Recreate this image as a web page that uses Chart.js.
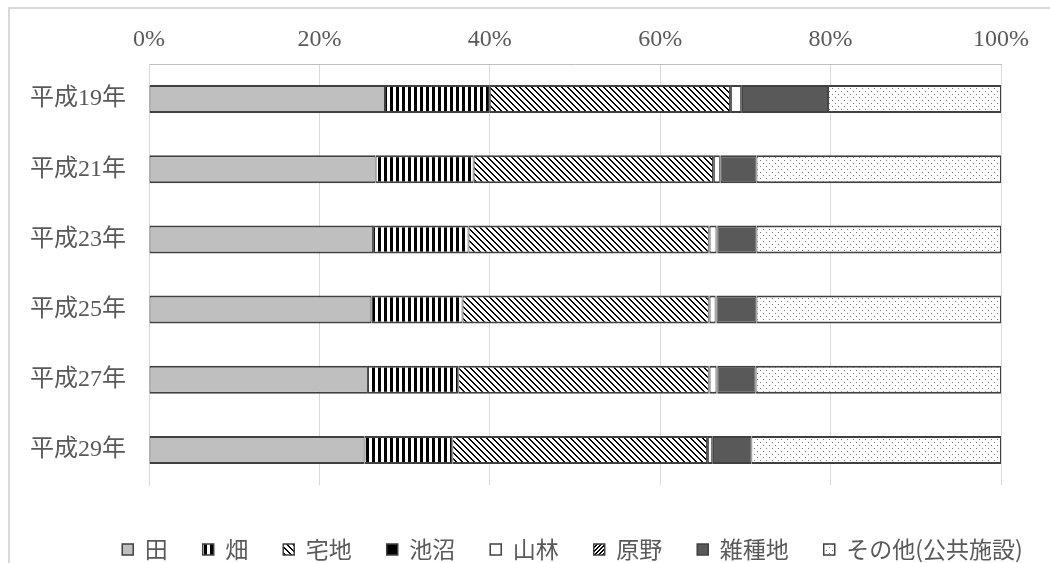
<!DOCTYPE html>
<html>
<head>
<meta charset="utf-8">
<script src="https://cdn.jsdelivr.net/npm/chart.js@4.4.1/dist/chart.umd.min.js"></script>
<style>
  html, body { margin: 0; padding: 0; background: #fff; }
  canvas { display: block; }
</style>
</head>
<body>
<canvas id="c" width="1050" height="563"></canvas>
<script>
// 地目別面積の構成比（%）
const years = ['平成19年', '平成21年', '平成23年', '平成25年', '平成27年', '平成29年'];
const pctTicks = [0, 20, 40, 60, 80, 100];

const ta        = [27.7, 26.6, 26.3, 26.1, 25.7, 25.3]; // 田
const hatake    = [12.3, 11.5, 11.2, 10.7, 10.6, 10.3]; // 畑
const takuchi   = [28.2, 28.1, 28.2, 28.9, 29.4, 29.9]; // 宅地
const chisho    = [0.1, 0.1, 0.1, 0.1, 0.1, 0.1];       // 池沼
const sanrin    = [1.2, 0.7, 0.8, 0.7, 0.8, 0.5];       // 山林
const genya     = [0.1, 0.1, 0.1, 0.1, 0.1, 0.1];       // 原野
const zasshuchi = [10.1, 4.2, 4.6, 4.7, 4.5, 4.5];      // 雑種地
const sonota    = [20.3, 28.7, 28.7, 28.7, 28.8, 29.3]; // その他(公共施設)

const canvas = document.getElementById('c');
const ctx = canvas.getContext('2d');

// small repeating tiles used as fills
function makePattern(w, h, paint) {
  const t = document.createElement('canvas');
  t.width = w; t.height = h;
  const g = t.getContext('2d');
  g.fillStyle = '#ffffff';
  g.fillRect(0, 0, w, h);
  paint(g, w, h);
  return ctx.createPattern(t, 'repeat');
}

const vertStripes = makePattern(6, 1, g => {
  g.fillStyle = '#000000';
  g.fillRect(0, 0, 3, 1);
});

const downDiag = makePattern(6, 6, (g, w, h) => {
  g.fillStyle = '#000000';
  for (let y = 0; y < h; y++) {
    for (let x = 0; x < w; x++) {
      if (((x - y) % 6 + 6) % 6 < 2) g.fillRect(x, y, 1, 1);
    }
  }
});

const upDiag = makePattern(4, 4, (g, w, h) => {
  g.fillStyle = '#000000';
  for (let y = 0; y < h; y++) {
    for (let x = 0; x < w; x++) {
      if ((x + y) % 4 < 2) g.fillRect(x, y, 1, 1);
    }
  }
});

const dots = makePattern(6, 6, g => {
  g.fillStyle = '#7a7a7a';
  g.fillRect(1, 1, 1, 1);
  g.fillRect(4, 4, 1, 1);
});

const series = [
  { label: '田', data: ta, fill: '#bfbfbf' },
  { label: '畑', data: hatake, fill: vertStripes },
  { label: '宅地', data: takuchi, fill: downDiag },
  { label: '池沼', data: chisho, fill: '#000000' },
  { label: '山林', data: sanrin, fill: '#ffffff' },
  { label: '原野', data: genya, fill: upDiag },
  { label: '雑種地', data: zasshuchi, fill: '#595959' },
  { label: 'その他(公共施設)', data: sonota, fill: dots }
];

const framePlugin = {
  id: 'frame',
  beforeDraw(chart) {
    const c = chart.ctx;
    c.save();
    c.fillStyle = '#ffffff';
    c.fillRect(0, 0, chart.width, chart.height);
    c.strokeStyle = '#d9d9d9';
    c.lineWidth = 2;
    c.beginPath();
    c.moveTo(9, chart.height);
    c.lineTo(9, 8);
    c.lineTo(chart.width, 8);
    c.stroke();
    c.restore();
  }
};

new Chart(ctx, {
  type: 'bar',
  data: {
    labels: years,
    datasets: series.map(s => ({
      label: s.label,
      data: s.data,
      backgroundColor: s.fill,
      borderColor: '#404040',
      borderWidth: { top: 2, bottom: 2, left: 1, right: 1 },
      borderSkipped: false,
      barPercentage: 0.4,
      categoryPercentage: 1
    }))
  },
  options: {
    indexAxis: 'y',
    responsive: false,
    animation: false,
    layout: { padding: { left: 16, right: -79, top: 0, bottom: -8 } },
    scales: {
      x: {
        position: 'top',
        stacked: true,
        min: 0,
        max: 100,
        afterBuildTicks: s => { s.ticks = pctTicks.map(v => ({ value: v })); },
        afterFit: s => { s.height = 64; },
        grid: { color: '#d9d9d9', lineWidth: 1, drawTicks: false },
        border: { display: true, color: '#bfbfbf', width: 1 },
        ticks: {
          padding: 10,
          color: '#595959',
          font: { family: '"Liberation Serif", serif', size: 24 },
          callback: v => v + '%'
        }
      },
      y: {
        stacked: true,
        afterFit: s => { s.width = 133; },
        grid: { display: false, drawTicks: false },
        border: { display: true, color: '#d9d9d9', width: 1 },
        ticks: {
          padding: 23,
          color: '#595959',
          font: { family: '"Liberation Serif", "Noto Sans CJK JP"', size: 24 }
        }
      },
      yr: {
        type: 'category',
        position: 'right',
        afterFit: s => { s.width = 128; },
        grid: { display: false, drawTicks: false },
        border: { display: false },
        ticks: { display: false }
      }
    },
    plugins: {
      legend: {
        position: 'bottom',
        title: { display: true, text: ' ', font: { size: 15 }, padding: 0 },
        labels: {
          boxWidth: 11,
          boxHeight: 11,
          padding: 35,
          color: '#595959',
          font: { family: '"Noto Sans CJK JP"', size: 23 }
        }
      },
      tooltip: { enabled: false }
    }
  },
  plugins: [framePlugin]
});
</script>
</body>
</html>
